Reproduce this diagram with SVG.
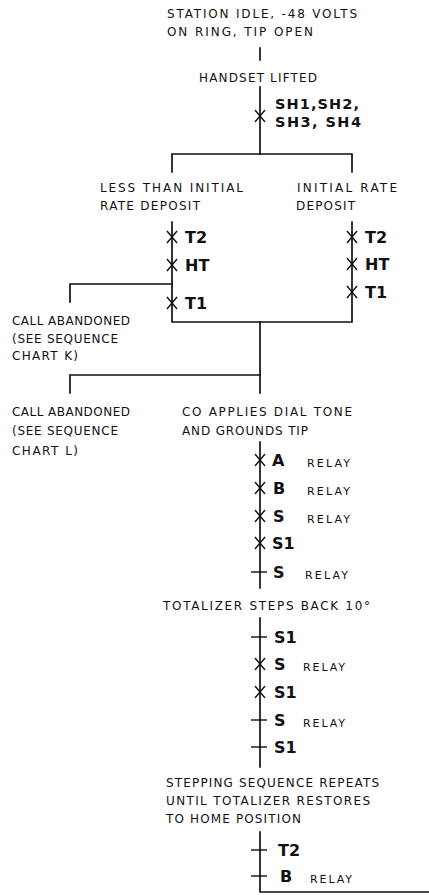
<svg xmlns="http://www.w3.org/2000/svg" width="429" height="895" viewBox="0 0 429 895">
<defs>
<style>
.t{font-family:"DejaVu Sans","Liberation Sans",sans-serif;font-size:12px;fill:#111}
.b{font-family:"DejaVu Sans","Liberation Sans",sans-serif;font-size:16px;font-weight:bold;fill:#111}
.s{font-family:"DejaVu Sans","Liberation Sans",sans-serif;font-size:14.5px;font-weight:bold;fill:#111}
.r{font-family:"DejaVu Sans","Liberation Sans",sans-serif;font-size:11px;fill:#111}
.w{stroke:#111;stroke-width:1.7;fill:none;stroke-linecap:square}
.m{stroke:#111;stroke-width:1.4;fill:none}
</style>
<g id="x"><path class="m" d="M-5,-6 L5,6 M-5,6 L5,-6"/></g>
<g id="k"><path class="m" d="M-9,0 L7,0"/></g>
</defs>
<rect width="429" height="895" fill="#fff"/>

<g id="n-idle">
<text class="t" x="167" y="17.5" textLength="190" lengthAdjust="spacing">STATION IDLE, -48 VOLTS</text>
<text class="t" x="167" y="36" textLength="146" lengthAdjust="spacing">ON RING, TIP OPEN</text>
</g>
<g id="n-lifted">
<text class="t" x="199" y="81.5" textLength="118" lengthAdjust="spacing">HANDSET LIFTED</text>
</g>
<g id="n-less">
<text class="t" x="100" y="191.5" textLength="143" lengthAdjust="spacing">LESS THAN INITIAL</text>
<text class="t" x="100" y="210" textLength="100" lengthAdjust="spacing">RATE DEPOSIT</text>
</g>
<g id="n-initial">
<text class="t" x="297" y="191.5" textLength="100" lengthAdjust="spacing">INITIAL RATE</text>
<text class="t" x="296" y="210" textLength="59" lengthAdjust="spacing">DEPOSIT</text>
</g>
<g id="n-abandon-k">
<text class="t" x="12" y="325" textLength="118" lengthAdjust="spacing">CALL ABANDONED</text>
<text class="t" x="12" y="342.5" textLength="106" lengthAdjust="spacing">(SEE SEQUENCE</text>
<text class="t" x="12" y="360" textLength="66" lengthAdjust="spacing">CHART K)</text>
</g>
<g id="n-abandon-l">
<text class="t" x="12" y="416" textLength="118" lengthAdjust="spacing">CALL ABANDONED</text>
<text class="t" x="12" y="435" textLength="106" lengthAdjust="spacing">(SEE SEQUENCE</text>
<text class="t" x="12" y="455" textLength="66" lengthAdjust="spacing">CHART L)</text>
</g>
<g id="n-dialtone">
<text class="t" x="182" y="416" textLength="170" lengthAdjust="spacing">CO APPLIES DIAL TONE</text>
<text class="t" x="182" y="435" textLength="126" lengthAdjust="spacing">AND GROUNDS TIP</text>
</g>
<g id="n-totalizer">
<text class="t" x="163" y="610" textLength="207" lengthAdjust="spacing">TOTALIZER STEPS BACK 10°</text>
</g>
<g id="n-repeat">
<text class="t" x="166" y="787" textLength="213" lengthAdjust="spacing">STEPPING SEQUENCE REPEATS</text>
<text class="t" x="166" y="805" textLength="204" lengthAdjust="spacing">UNTIL TOTALIZER RESTORES</text>
<text class="t" x="166" y="823" textLength="135" lengthAdjust="spacing">TO HOME POSITION</text>
</g>

<g id="connectors">
<path class="w" d="M260,48 V60"/>
<path class="w" d="M260,87 V154"/>
<path class="w" d="M172,172 V154 H352 V172"/>
<path class="w" d="M172,222 V322 H352 V222"/>
<path class="w" d="M172,284 H70 V302"/>
<path class="w" d="M260,322 V393"/>
<path class="w" d="M260,375 H70 V393"/>
<path class="w" d="M260,442 V588"/>
<path class="w" d="M260,618 V767"/>
<path class="w" d="M260,832 V892 H429"/>
</g>

<g id="contacts">
<use href="#x" x="260" y="116"/>
<text class="s" x="275" y="109" textLength="84" lengthAdjust="spacing">SH1,SH2,</text>
<text class="s" x="275" y="126.5" textLength="86" lengthAdjust="spacing">SH3, SH4</text>

<use href="#x" x="172" y="237"/>
<use href="#x" x="172" y="265"/>
<use href="#x" x="172" y="303"/>
<text class="b" x="185" y="243">T2</text>
<text class="b" x="185" y="271">HT</text>
<text class="b" x="185" y="309">T1</text>

<use href="#x" x="352" y="237"/>
<use href="#x" x="352" y="264"/>
<use href="#x" x="352" y="292"/>
<text class="b" x="365" y="243">T2</text>
<text class="b" x="365" y="270">HT</text>
<text class="b" x="365" y="298">T1</text>

<use href="#x" x="260" y="460"/>
<use href="#x" x="260" y="488"/>
<use href="#x" x="260" y="516"/>
<use href="#x" x="260" y="543"/>
<use href="#k" x="260" y="572"/>
<text class="b" x="272" y="466">A</text>
<text class="b" x="273" y="494">B</text>
<text class="b" x="273" y="522">S</text>
<text class="b" x="272" y="549">S1</text>
<text class="b" x="273" y="578">S</text>
<text class="r" x="307" y="467" textLength="43" lengthAdjust="spacing">RELAY</text>
<text class="r" x="307" y="495" textLength="43" lengthAdjust="spacing">RELAY</text>
<text class="r" x="307" y="523" textLength="43" lengthAdjust="spacing">RELAY</text>
<text class="r" x="305" y="579" textLength="43" lengthAdjust="spacing">RELAY</text>

<use href="#k" x="260" y="637"/>
<use href="#x" x="260" y="664"/>
<use href="#x" x="260" y="692"/>
<use href="#k" x="260" y="720"/>
<use href="#k" x="260" y="747"/>
<text class="b" x="274" y="643">S1</text>
<text class="b" x="274" y="670">S</text>
<text class="b" x="274" y="698">S1</text>
<text class="b" x="274" y="726">S</text>
<text class="b" x="274" y="753">S1</text>
<text class="r" x="303" y="671" textLength="42" lengthAdjust="spacing">RELAY</text>
<text class="r" x="303" y="727" textLength="42" lengthAdjust="spacing">RELAY</text>

<use href="#k" x="260" y="850"/>
<use href="#k" x="260" y="876"/>
<text class="b" x="278" y="856">T2</text>
<text class="b" x="280" y="882">B</text>
<text class="r" x="310" y="883" textLength="42" lengthAdjust="spacing">RELAY</text>
</g>
</svg>
